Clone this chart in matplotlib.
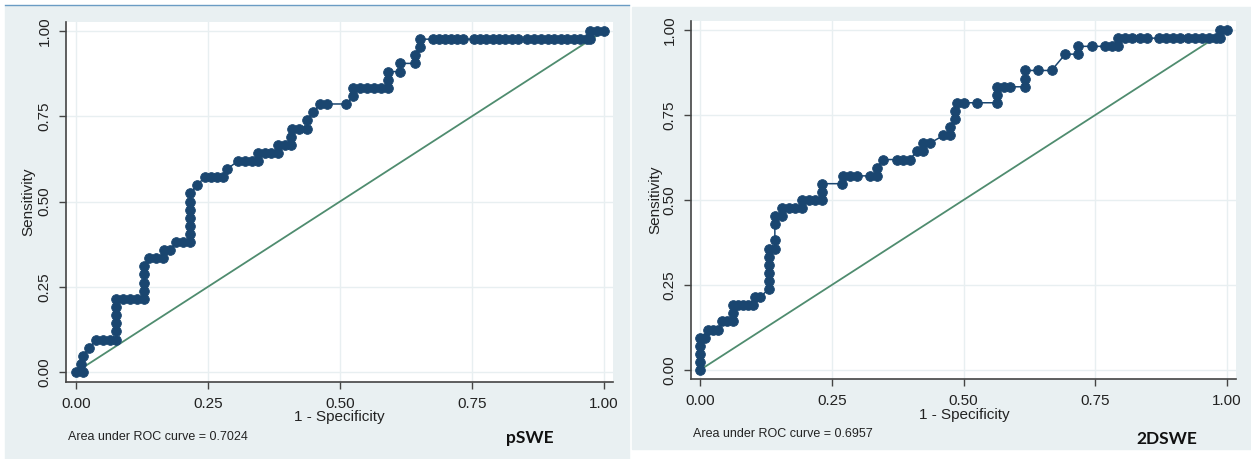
import matplotlib.pyplot as plt
from matplotlib.patches import Rectangle
from matplotlib.lines import Line2D

plt.rcParams['font.family'] = ['Liberation Sans', 'DejaVu Sans']

# ROC points (1 - specificity, sensitivity)
pswe_roc = [
    (0.000, 0.000), (0.013, 0.000), (0.010, 0.024), (0.013, 0.048), (0.025, 0.071),
    (0.038, 0.095), (0.051, 0.095), (0.064, 0.095), (0.076, 0.095), (0.076, 0.119),
    (0.076, 0.143), (0.076, 0.167), (0.076, 0.190), (0.076, 0.214), (0.089, 0.214),
    (0.102, 0.214), (0.115, 0.214), (0.128, 0.214), (0.128, 0.238), (0.128, 0.262),
    (0.128, 0.286), (0.128, 0.310), (0.139, 0.333), (0.152, 0.333), (0.165, 0.333),
    (0.167, 0.357), (0.178, 0.357), (0.190, 0.381), (0.203, 0.381), (0.216, 0.381),
    (0.216, 0.405), (0.216, 0.429), (0.216, 0.452), (0.216, 0.476), (0.216, 0.500),
    (0.216, 0.524), (0.229, 0.548), (0.244, 0.571), (0.256, 0.571), (0.268, 0.571),
    (0.279, 0.571), (0.286, 0.595), (0.307, 0.619), (0.320, 0.619), (0.333, 0.619),
    (0.345, 0.619), (0.345, 0.643), (0.358, 0.643), (0.370, 0.643), (0.383, 0.643),
    (0.383, 0.667), (0.396, 0.667), (0.408, 0.667), (0.408, 0.690), (0.410, 0.714),
    (0.423, 0.714), (0.437, 0.714), (0.437, 0.738), (0.449, 0.762), (0.462, 0.786),
    (0.475, 0.786), (0.512, 0.786), (0.525, 0.810), (0.525, 0.833), (0.538, 0.833),
    (0.551, 0.833), (0.564, 0.833), (0.577, 0.833), (0.590, 0.833), (0.590, 0.857),
    (0.590, 0.881), (0.614, 0.881), (0.614, 0.905), (0.642, 0.905), (0.642, 0.929),
    (0.652, 0.952), (0.652, 0.976), (0.677, 0.976), (0.688, 0.976), (0.699, 0.976),
    (0.710, 0.976), (0.721, 0.976), (0.732, 0.976), (0.753, 0.976), (0.765, 0.976),
    (0.777, 0.976), (0.789, 0.976), (0.801, 0.976), (0.813, 0.976), (0.825, 0.976),
    (0.837, 0.976), (0.855, 0.976), (0.868, 0.976), (0.880, 0.976), (0.893, 0.976),
    (0.905, 0.976), (0.918, 0.976), (0.930, 0.976), (0.943, 0.976), (0.955, 0.976),
    (0.968, 0.976), (0.974, 0.976), (0.974, 1.000), (0.987, 1.000), (1.000, 1.000),
]

dswe_roc = [
    (0.000, 0.000), (0.000, 0.024), (0.000, 0.048), (0.000, 0.071), (0.000, 0.095),
    (0.009, 0.095), (0.016, 0.119), (0.025, 0.119), (0.035, 0.119), (0.041, 0.143),
    (0.051, 0.143), (0.063, 0.143), (0.063, 0.167), (0.063, 0.190), (0.073, 0.190),
    (0.082, 0.190), (0.092, 0.190), (0.101, 0.190), (0.104, 0.214), (0.114, 0.214),
    (0.130, 0.238), (0.130, 0.262), (0.130, 0.286), (0.130, 0.310), (0.130, 0.333),
    (0.130, 0.357), (0.142, 0.357), (0.142, 0.381), (0.142, 0.429), (0.142, 0.452),
    (0.155, 0.452), (0.155, 0.476), (0.168, 0.476), (0.180, 0.476), (0.193, 0.476),
    (0.193, 0.500), (0.206, 0.500), (0.218, 0.500), (0.231, 0.500), (0.231, 0.524),
    (0.231, 0.548), (0.269, 0.548), (0.272, 0.571), (0.285, 0.571), (0.297, 0.571),
    (0.323, 0.571), (0.335, 0.571), (0.335, 0.595), (0.348, 0.619), (0.373, 0.619),
    (0.386, 0.619), (0.398, 0.619), (0.411, 0.643), (0.424, 0.643), (0.424, 0.667),
    (0.436, 0.667), (0.462, 0.690), (0.474, 0.690), (0.474, 0.714), (0.484, 0.738),
    (0.484, 0.762), (0.487, 0.786), (0.500, 0.786), (0.525, 0.786), (0.563, 0.786),
    (0.563, 0.810), (0.563, 0.833), (0.576, 0.833), (0.588, 0.833), (0.617, 0.833),
    (0.617, 0.857), (0.617, 0.881), (0.642, 0.881), (0.667, 0.881), (0.693, 0.929),
    (0.718, 0.929), (0.718, 0.952), (0.743, 0.952), (0.769, 0.952), (0.781, 0.952),
    (0.794, 0.952), (0.794, 0.976), (0.806, 0.976), (0.819, 0.976), (0.835, 0.976),
    (0.848, 0.976), (0.870, 0.976), (0.884, 0.976), (0.898, 0.976), (0.911, 0.976),
    (0.925, 0.976), (0.939, 0.976), (0.952, 0.976), (0.966, 0.976), (0.980, 0.976),
    (0.987, 0.976), (0.987, 1.000), (1.000, 1.000),
]

auc_values = [0.7024, 0.6957]
panel_names = ['pSWE', '2DSWE']
ticks = [0, 0.25, 0.5, 0.75, 1.0]
tick_labels = ['0.00', '0.25', '0.50', '0.75', '1.00']

W, H = 1251, 459
navy = '#1a4670'
green = '#4f8c6f'
bg = '#e9f0f2'
grid_col = '#e8eff1'


def fx(x):
    return x / W


def fy(y):
    return 1 - y / H


fig = plt.figure(figsize=(12.51, 4.59), dpi=100)

# panel backgrounds (pixel boxes), kept under the axes
for x0, x1, y0, y1 in [(5, 629, 6, 459), (632, 1251, 7, 449)]:
    fig.patches.append(Rectangle((fx(x0), fy(y1)), (x1 - x0) / W, (y1 - y0) / H,
                                 transform=fig.transFigure, color=bg, zorder=-2))
fig.lines.append(Line2D([fx(5), fx(629)], [fy(5), fy(5)], transform=fig.transFigure,
                        color='#6a9cc4', lw=1, zorder=-1))

panels = [
    dict(box=(66, 22, 613, 382), xlim=(-0.0189, 1.017), ylim=(-0.0293, 1.0264),
         ylab=(28, 202), xlab=(339, 417), auc=(68, 437), name=(530, 438)),
    dict(box=(691, 21, 1236, 379), xlim=(-0.0171, 1.017), ylim=(-0.0265, 1.0265),
         ylab=(655, 200), xlab=(964, 415), auc=(693, 434), name=(1167, 439)),
]

for roc, auc, name, p in zip([pswe_roc, dswe_roc], auc_values, panel_names, panels):
    x0, y0, x1, y1 = p['box']
    ax = fig.add_axes([fx(x0), fy(y1), (x1 - x0) / W, (y1 - y0) / H])
    ax.set_facecolor('white')
    fpr = [a for a, b in roc]
    tpr = [b for a, b in roc]
    ax.plot([0, 1], [0, 1], color=green, lw=1.3, zorder=2)
    ax.plot(fpr, tpr, '-o', color=navy, lw=1.1, ms=7, mew=0.6, zorder=3, clip_on=False)
    ax.set_xlim(p['xlim'])
    ax.set_ylim(p['ylim'])
    ax.set_xticks(ticks)
    ax.set_xticklabels(tick_labels)
    ax.set_yticks(ticks)
    ax.set_yticklabels(tick_labels, rotation=90, va='center')
    ax.tick_params(length=5, width=1, color='#444444', pad=5.5, labelsize=11, labelcolor='#222222')
    ax.grid(True, color=grid_col, lw=1)
    ax.set_axisbelow(True)
    for s in ['top', 'right']:
        ax.spines[s].set_visible(False)
    for s in ['left', 'bottom']:
        ax.spines[s].set_color('#444444')
        ax.spines[s].set_linewidth(1.2)

    fig.text(fx(p['ylab'][0]), fy(p['ylab'][1]), 'Sensitivity', rotation=90,
             ha='center', va='center', fontsize=11, color='#222222')
    fig.text(fx(p['xlab'][0]), fy(p['xlab'][1]), '1 - Specificity',
             ha='center', va='center', fontsize=11, color='#222222')
    fig.text(fx(p['auc'][0]), fy(p['auc'][1]), f'Area under ROC curve = {auc:.4f}',
             ha='left', va='center', fontsize=9, color='#222222')
    fig.text(fx(p['name'][0]), fy(p['name'][1]), name, ha='center', va='center',
             fontsize=12.5, fontweight='bold', family=['Lato', 'DejaVu Sans'], color='#111111')

fig.savefig('out.png', dpi=100)
